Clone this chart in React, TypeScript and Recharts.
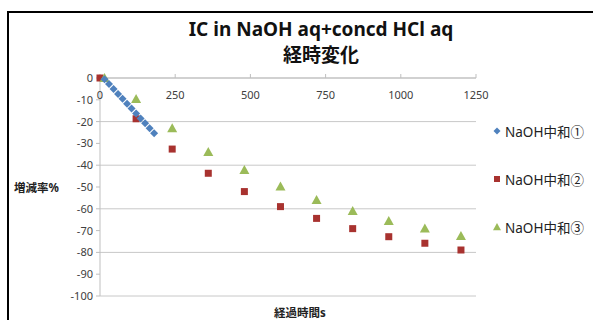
import React from 'react'
import { ScatterChart, Scatter, XAxis, YAxis, CartesianGrid } from 'recharts'

const seriesNames = ['NaOH中和①', 'NaOH中和②', 'NaOH中和③']
const seriesColors = ['#4F81BD', '#A8322F', '#9BBB59']

const timeBlue = [15, 30, 45, 60, 75, 90, 105, 120, 135, 150, 165, 180]
const rateBlue = [-0.6, -2.8, -5.1, -7.3, -9.5, -11.8, -14.0, -16.3, -18.6, -20.8, -23.1, -25.3]

const timeRed = [0, 120, 240, 360, 480, 600, 720, 840, 960, 1080, 1200]
const rateRed = [0, -18.7, -32.6, -43.7, -52.1, -59.0, -64.4, -69.1, -72.8, -75.8, -78.9]

const timeGreen = [15, 120, 240, 360, 480, 600, 720, 840, 960, 1080, 1200]
const rateGreen = [0, -9.6, -23.1, -34.0, -42.2, -49.8, -56.0, -61.0, -65.6, -69.0, -72.5]

const xTicks = [0, 250, 500, 750, 1000, 1250]
const yTicks = [0, -10, -20, -30, -40, -50, -60, -70, -80, -90, -100]

const toPoints = (xs: number[], ys: number[]) => xs.map((x, i) => ({ x, y: ys[i] }))

const blueData = toPoints(timeBlue, rateBlue)
const redData = toPoints(timeRed, rateRed)
const greenData = toPoints(timeGreen, rateGreen)

const FONT = '"Noto Sans", "Noto Sans CJK JP", sans-serif'

function Diamond({ cx, cy, fill, r = 4 }: any) {
    return <path d={`M${cx},${cy - r}L${cx + r},${cy}L${cx},${cy + r}L${cx - r},${cy}Z`} fill={fill} />
}

function Square({ cx, cy, fill, r = 3.5 }: any) {
    return <rect x={cx - r} y={cy - r} width={r * 2} height={r * 2} fill={fill} />
}

function Triangle({ cx, cy, fill, r = 5 }: any) {
    return <path d={`M${cx},${cy - r}L${cx + r},${cy + r * 0.8}L${cx - r},${cy + r * 0.8}Z`} fill={fill} />
}

const markers = [Diamond, Square, Triangle]

function TopTick({ x, y, payload }: any) {
    return (
        <text x={x} y={y + 27} textAnchor="middle" fontSize={11} fill="#404040" fontFamily={FONT}>
            {payload.value}
        </text>
    )
}

function LegendBox() {
    return (
        <div style={{ position: 'absolute', left: 491, top: 107, fontFamily: FONT, fontSize: 13.5, color: '#222' }}>
            {seriesNames.map((name, i) => {
                const M = markers[i]
                return (
                    <div key={name} style={{ display: 'flex', alignItems: 'center', height: 48 }}>
                        <svg width={12} height={12}>
                            <M cx={6} cy={6} fill={seriesColors[i]} r={i === 2 ? 4 : i === 0 ? 3.5 : 3} />
                        </svg>
                        <span style={{ marginLeft: 2 }}>{name}</span>
                    </div>
                )
            })}
        </div>
    )
}

export default function App() {
    return (
        <div style={{ position: 'fixed', left: 0, top: 0, width: 593, height: 320, background: '#fff', overflow: 'hidden' }}>
            <div style={{ position: 'absolute', left: 7, top: 11, width: 600, height: 330, border: '2px solid #000' }} />
            <div style={{ position: 'absolute', left: 121, width: 400, top: 16, textAlign: 'center', fontFamily: FONT, fontWeight: 'bold', fontSize: 19, lineHeight: '26px', color: '#111' }}>
                <div>IC in NaOH aq+concd HCl aq</div>
                <div>経時変化</div>
            </div>
            <div style={{ position: 'absolute', left: 14, top: 179, fontFamily: FONT, fontWeight: 'bold', fontSize: 11.5, color: '#222' }}>増減率%</div>
            <div style={{ position: 'absolute', left: 274, top: 307, lineHeight: '12px', fontFamily: FONT, fontWeight: 'bold', fontSize: 11.5, color: '#222' }}>経過時間s</div>
            <ScatterChart width={593} height={320} margin={{ top: 58, right: 117, bottom: 24, left: 60 }} style={{ position: 'absolute', left: 0, top: 0 }}>
                <CartesianGrid horizontal vertical={false} stroke="#C8C8C8" />
                <XAxis
                    type="number"
                    dataKey="x"
                    orientation="top"
                    domain={[0, 1250]}
                    ticks={xTicks}
                    height={20}
                    tickSize={4}
                    stroke="#BFBFBF"
                    tick={<TopTick />}
                />
                <YAxis
                    type="number"
                    dataKey="y"
                    domain={[-100, 0]}
                    ticks={yTicks}
                    width={40}
                    tickSize={4}
                    tickMargin={3}
                    stroke="#BFBFBF"
                    tick={{ fontSize: 11, fill: '#404040', fontFamily: FONT }}
                />
                <Scatter name={seriesNames[1]} data={redData} fill={seriesColors[1]} shape={<Square />} isAnimationActive={false} />
                <Scatter name={seriesNames[2]} data={greenData} fill={seriesColors[2]} shape={<Triangle />} isAnimationActive={false} />
                <Scatter name={seriesNames[0]} data={blueData} fill={seriesColors[0]} shape={<Diamond />} isAnimationActive={false} />
            </ScatterChart>
            <LegendBox />
        </div>
    )
}
